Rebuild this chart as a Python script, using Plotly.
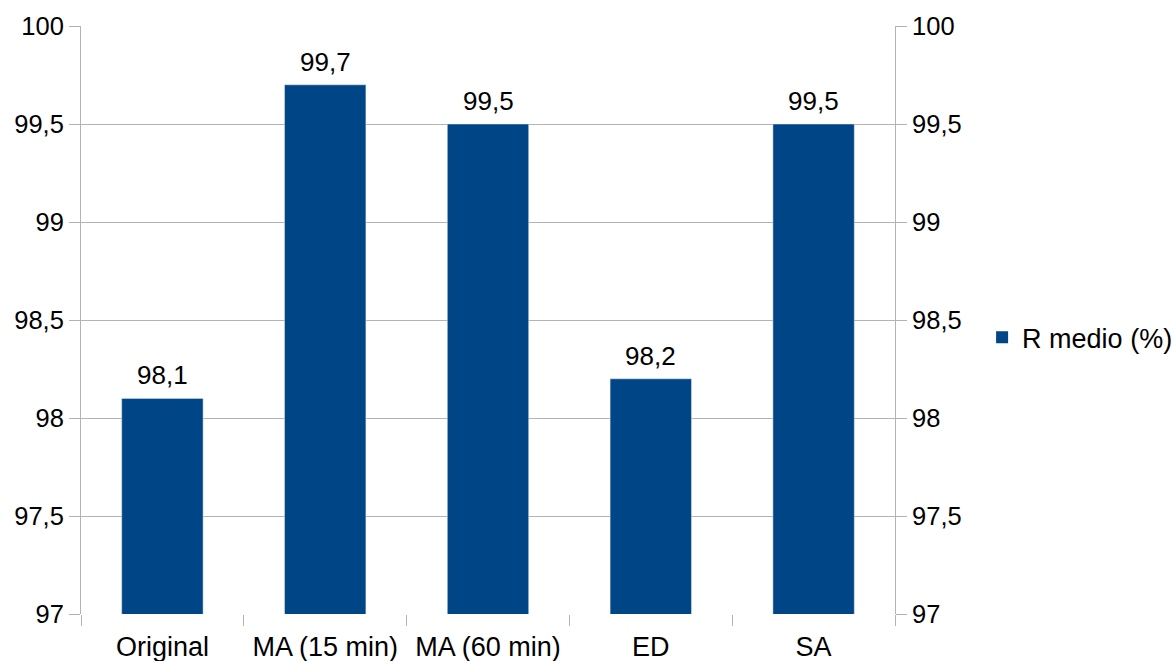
import plotly.graph_objects as go

categories = ["Original", "MA (15 min)", "MA (60 min)", "ED", "SA"]
r_medio = [98.1, 99.7, 99.5, 98.2, 99.5]
y_ticks = [97, 97.5, 98, 98.5, 99, 99.5, 100]
y_tick_text = ["97", "97,5", "98", "98,5", "99", "99,5", "100"]

BAR_COLOR = "#004586"
GRID = "#b3b3b3"
FONT = "Liberation Sans"

fig = go.Figure()
fig.add_trace(go.Bar(
    x=categories, y=r_medio, name="R medio (%)",
    marker=dict(color=BAR_COLOR, line=dict(width=0)),
))
# invisible companion so the right-hand axis is drawn
fig.add_trace(go.Bar(
    x=categories, y=r_medio, yaxis="y2", showlegend=False,
    marker=dict(color="rgba(0,0,0,0)"), hoverinfo="skip",
))

# value labels above each bar
for cat, v in zip(categories, r_medio):
    fig.add_annotation(
        x=cat, y=v, text=f"{v:.1f}".replace(".", ","),
        showarrow=False, yanchor="bottom", yshift=6,
        font=dict(size=26, color="black", family=FONT),
    )

yaxis_common = dict(
    range=[97, 100], tickvals=y_ticks, ticktext=y_tick_text,
    ticks="outside", ticklen=11, tickcolor=GRID, tickwidth=1,
    showline=True, linecolor=GRID, linewidth=1,
    tickfont=dict(size=25.5, color="black", family=FONT),
    zeroline=False, automargin=False,
)

fig.update_layout(
    width=1174, height=661,
    margin=dict(l=81, r=279, t=26, b=47, autoexpand=False),
    paper_bgcolor="white", plot_bgcolor="white",
    font=dict(family=FONT, size=27, color="black"),
    barmode="overlay", bargap=0.5,
    separators=",.",
    xaxis=dict(
        ticks="outside", tickson="boundaries", ticklen=11,
        tickcolor=GRID, tickwidth=1, showline=False, showgrid=False,
        tickfont=dict(size=27, color="black", family=FONT),
        ticklabelstandoff=14, automargin=False,
    ),
    yaxis=dict(**yaxis_common, showgrid=True, gridcolor=GRID, gridwidth=1),
    yaxis2=dict(**yaxis_common, overlaying="y", side="right", showgrid=False),
    legend=dict(
        x=1.107, y=0.47, xanchor="left", yanchor="middle",
        font=dict(size=27, color="black", family=FONT),
        itemwidth=30, bgcolor="rgba(0,0,0,0)",
    ),
    showlegend=True,
)

fig.write_html("out.html")
